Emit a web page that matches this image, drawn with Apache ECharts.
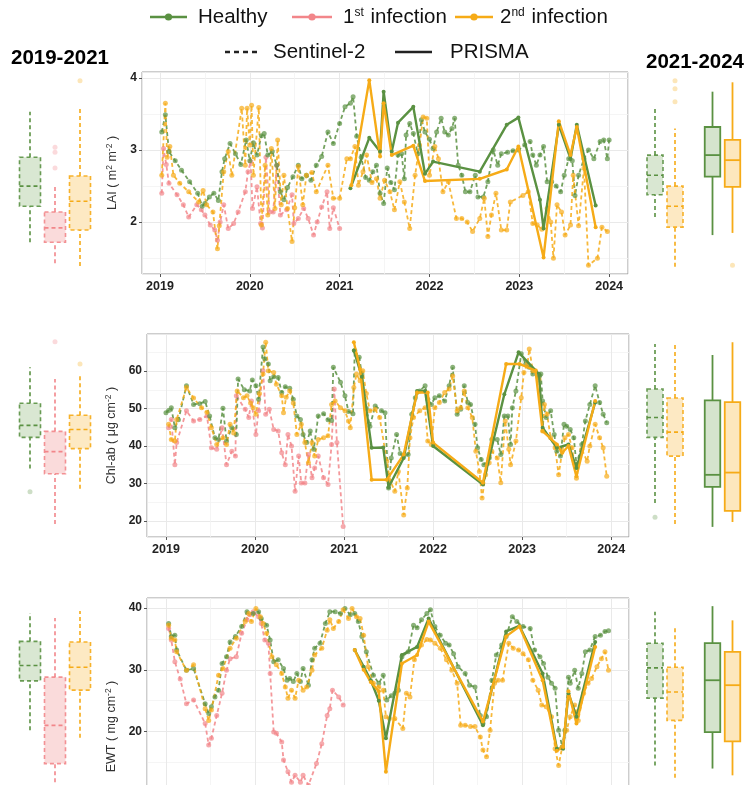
<!DOCTYPE html>
<html>
<head>
<meta charset="utf-8">
<script src="https://cdn.jsdelivr.net/npm/echarts@6/dist/echarts.min.js"></script>
<style>
  html, body { margin: 0; padding: 0; background: #fff; overflow: hidden; }
  #chart { width: 747px; height: 785px; }
</style>
</head>
<body>
<div id="chart"></div>
<script>
// ---------- time series: [decimal year, value] ----------
// LAI (m2 m-2)
const laiHealthyS2 = [[2019.02,3.25],[2019.06,3.49],[2019.10,2.98],[2019.17,2.85],[2019.24,2.72],[2019.33,2.56],[2019.42,2.40],[2019.47,2.22],[2019.50,2.26],[2019.55,2.35],[2019.60,2.40],[2019.65,2.30],[2019.69,2.70],[2019.72,2.88],[2019.78,3.09],[2019.84,2.95],[2019.90,2.80],[2019.96,3.14],[2020.00,2.85],[2020.04,3.10],[2020.08,2.93],[2020.13,3.20],[2020.16,3.23],[2020.20,2.93],[2020.25,2.98],[2020.30,2.79],[2020.34,2.42],[2020.38,2.31],[2020.42,2.48],[2020.48,2.63],[2020.54,2.79],[2020.58,2.60],[2020.63,2.65],[2020.68,2.58],[2020.74,2.79],[2020.80,2.91],[2020.87,3.25],[2020.93,3.09],[2021.00,3.37],[2021.06,3.60],[2021.12,3.65],[2021.15,3.74],[2021.19,3.19],[2021.24,2.90],[2021.29,2.62],[2021.33,2.58],[2021.37,2.70],[2021.41,2.79],[2021.45,2.40],[2021.49,2.26],[2021.53,2.75],[2021.57,2.55],[2021.61,2.45],[2021.65,2.93],[2021.69,2.95],[2021.72,2.60],[2021.74,3.21],[2021.78,3.37],[2021.82,3.23],[2021.87,2.95],[2021.91,3.42],[2021.95,3.25],[2022.00,3.15],[2022.04,3.02],[2022.08,3.25],[2022.13,3.44],[2022.17,3.25],[2022.21,3.21],[2022.25,3.30],[2022.28,3.44],[2022.32,2.79],[2022.36,2.65],[2022.40,2.42],[2022.45,2.42],[2022.51,2.65],[2022.54,2.35],[2022.60,2.35],[2022.65,2.56],[2022.71,3.00],[2022.76,2.79],[2022.80,2.95],[2022.87,2.97],[2022.93,2.99],[2022.99,3.00],[2023.06,3.07],[2023.12,3.12],[2023.15,2.93],[2023.19,2.79],[2023.23,2.93],[2023.27,3.05],[2023.31,2.56],[2023.36,2.56],[2023.41,2.50],[2023.46,2.42],[2023.50,2.65],[2023.55,2.88],[2023.59,2.85],[2023.62,2.37],[2023.66,2.65],[2023.72,2.88],[2023.77,3.00],[2023.83,2.88],[2023.90,3.12],[2023.94,3.14],[2023.98,2.88],[2024.00,3.14]];
const laiInf1S2 = [[2019.02,2.40],[2019.04,3.02],[2019.07,2.80],[2019.10,2.54],[2019.19,2.38],[2019.26,2.24],[2019.32,2.07],[2019.41,2.24],[2019.46,2.17],[2019.50,2.10],[2019.56,1.96],[2019.61,1.89],[2019.64,1.75],[2019.67,2.00],[2019.71,2.24],[2019.76,1.91],[2019.82,1.98],[2019.87,2.14],[2019.95,2.42],[2019.98,2.70],[2020.01,2.84],[2020.03,2.19],[2020.08,2.49],[2020.12,1.98],[2020.14,1.92],[2020.18,2.90],[2020.22,2.14],[2020.26,2.14],[2020.30,2.79],[2020.34,2.10],[2020.41,2.17],[2020.47,2.38],[2020.49,1.98],[2020.54,2.05],[2020.60,2.19],[2020.65,2.05],[2020.71,1.82],[2020.75,2.00],[2020.80,2.21],[2020.86,2.42],[2020.89,1.91],[2020.93,2.20],[2021.00,1.91]];
const laiInf2S2 = [[2019.02,2.65],[2019.06,3.65],[2019.08,2.90],[2019.11,3.05],[2019.15,2.65],[2019.22,2.54],[2019.32,2.42],[2019.43,2.28],[2019.48,2.44],[2019.52,2.24],[2019.59,2.14],[2019.64,1.63],[2019.66,1.95],[2019.71,2.70],[2019.76,2.98],[2019.80,2.65],[2019.91,3.58],[2019.95,2.79],[2019.97,3.58],[2020.00,3.07],[2020.02,3.62],[2020.04,2.65],[2020.10,3.59],[2020.13,1.96],[2020.17,2.79],[2020.20,2.10],[2020.24,3.02],[2020.28,2.19],[2020.31,3.14],[2020.35,2.24],[2020.38,2.65],[2020.42,2.19],[2020.47,1.73],[2020.50,2.20],[2020.54,2.77],[2020.59,2.24],[2020.63,2.65],[2020.69,2.69],[2020.74,2.42],[2020.87,2.79],[2020.93,2.33],[2021.00,2.33],[2021.08,2.88],[2021.12,2.88],[2021.17,3.05],[2021.21,2.51],[2021.26,2.70],[2021.30,2.93],[2021.36,2.55],[2021.41,2.60],[2021.45,2.33],[2021.50,2.58],[2021.56,2.42],[2021.61,2.17],[2021.67,2.56],[2021.72,2.28],[2021.78,1.91],[2021.84,2.65],[2021.89,3.07],[2021.93,3.46],[2021.97,3.44],[2022.00,2.65],[2022.06,3.05],[2022.10,2.88],[2022.15,2.42],[2022.21,2.56],[2022.30,2.05],[2022.36,2.05],[2022.42,2.00],[2022.48,1.87],[2022.56,2.05],[2022.61,2.33],[2022.65,1.80],[2022.69,2.10],[2022.74,2.40],[2022.80,1.89],[2022.86,1.89],[2022.90,2.28],[2023.04,2.37],[2023.10,2.42],[2023.15,1.98],[2023.20,1.96],[2023.25,1.90],[2023.31,2.19],[2023.35,2.00],[2023.38,1.50],[2023.42,2.24],[2023.47,2.14],[2023.51,1.82],[2023.57,1.96],[2023.60,2.65],[2023.66,1.95],[2023.72,2.75],[2023.77,1.40],[2023.87,1.50],[2023.92,1.93],[2023.98,1.87]];
const laiHealthyPR = [[2021.12,2.47],[2021.33,3.17],[2021.45,2.98],[2021.49,3.81],[2021.58,2.98],[2021.65,3.38],[2021.82,3.60],[2021.95,2.67],[2022.04,2.84],[2022.56,2.70],[2022.86,3.35],[2022.99,3.45],[2023.23,2.31],[2023.27,1.91],[2023.44,3.35],[2023.57,2.88],[2023.64,3.35],[2023.85,2.23]];
const laiInf2PR = [[2021.13,2.51],[2021.33,3.97],[2021.45,2.91],[2021.49,3.65],[2021.58,2.93],[2021.82,3.06],[2021.95,2.57],[2022.56,2.60],[2022.86,2.73],[2022.99,3.05],[2023.27,1.51],[2023.44,3.40],[2023.57,2.93],[2023.64,3.32],[2023.85,1.93]];

// Chl-ab (ug cm-2)
const chlHealthyS2 = [[2019.00,48.9],[2019.03,49.5],[2019.06,50.2],[2019.10,44.9],[2019.14,47.0],[2019.23,56.1],[2019.31,51.1],[2019.38,51.3],[2019.44,51.9],[2019.49,48.0],[2019.55,42.2],[2019.59,41.7],[2019.64,50.1],[2019.68,41.3],[2019.74,44.9],[2019.79,43.1],[2019.81,57.9],[2019.88,55.0],[2019.94,54.7],[2019.97,57.6],[2020.01,56.1],[2020.04,52.5],[2020.09,66.4],[2020.11,63.2],[2020.15,61.9],[2020.17,57.4],[2020.21,58.5],[2020.26,58.3],[2020.30,54.3],[2020.34,55.8],[2020.39,55.4],[2020.43,52.5],[2020.47,48.0],[2020.51,47.1],[2020.54,43.1],[2020.58,40.9],[2020.62,44.0],[2020.66,39.1],[2020.71,48.0],[2020.77,48.6],[2020.82,47.0],[2020.86,46.8],[2020.88,61.0],[2020.96,57.0],[2021.01,53.4],[2021.05,49.2],[2021.10,48.6],[2021.12,65.5],[2021.17,63.7],[2021.20,59.2],[2021.25,50.0],[2021.29,45.3],[2021.35,50.7],[2021.42,49.4],[2021.46,48.9],[2021.50,28.8],[2021.53,36.8],[2021.59,43.1],[2021.63,38.0],[2021.67,37.3],[2021.72,37.7],[2021.76,48.5],[2021.80,52.9],[2021.85,54.7],[2021.91,56.1],[2021.94,52.5],[2021.98,51.1],[2022.02,52.9],[2022.07,53.4],[2022.13,52.0],[2022.18,56.1],[2022.22,61.0],[2022.27,48.5],[2022.31,49.8],[2022.35,56.1],[2022.39,51.6],[2022.42,51.1],[2022.47,45.8],[2022.50,39.5],[2022.54,36.4],[2022.57,35.0],[2022.63,36.8],[2022.66,41.7],[2022.72,41.7],[2022.76,37.7],[2022.80,48.0],[2022.84,48.0],[2022.87,40.4],[2022.89,50.2],[2022.93,54.7],[2022.99,64.6],[2023.04,61.9],[2023.08,61.0],[2023.12,59.2],[2023.18,58.3],[2023.21,59.2],[2023.23,52.0],[2023.27,47.6],[2023.32,49.4],[2023.36,43.1],[2023.39,38.6],[2023.43,37.3],[2023.47,45.8],[2023.50,45.3],[2023.54,44.4],[2023.58,42.2],[2023.61,35.0],[2023.67,40.4],[2023.71,46.7],[2023.76,51.1],[2023.82,56.1],[2023.87,51.6],[2023.91,48.5],[2023.95,46.2]];
const chlInf1S2 = [[2019.03,44.9],[2019.06,47.1],[2019.10,35.0],[2019.12,40.9],[2019.23,49.4],[2019.31,46.7],[2019.38,47.1],[2019.46,48.0],[2019.51,39.5],[2019.57,39.1],[2019.63,44.9],[2019.68,35.0],[2019.74,38.6],[2019.78,37.3],[2019.79,53.4],[2019.89,49.8],[2019.93,47.6],[2019.96,52.0],[2020.01,43.1],[2020.04,49.4],[2020.09,60.1],[2020.12,48.5],[2020.16,49.8],[2020.21,44.4],[2020.26,44.0],[2020.30,38.2],[2020.34,35.0],[2020.37,43.1],[2020.41,40.0],[2020.45,27.9],[2020.49,37.3],[2020.52,30.1],[2020.56,30.1],[2020.60,37.7],[2020.64,31.5],[2020.67,34.1],[2020.71,37.3],[2020.77,31.5],[2020.82,29.7],[2020.86,40.4],[2020.89,55.2],[2020.92,40.9],[2020.99,18.5]];
const chlInf2S2 = [[2019.03,45.8],[2019.06,41.7],[2019.10,41.3],[2019.12,47.1],[2019.23,55.6],[2019.31,52.8],[2019.40,50.2],[2019.46,49.0],[2019.51,44.9],[2019.57,40.4],[2019.64,42.2],[2019.68,40.4],[2019.72,45.8],[2019.76,43.5],[2019.80,54.7],[2019.87,52.9],[2019.91,53.4],[2019.95,51.5],[2019.98,50.2],[2020.01,48.5],[2020.05,54.0],[2020.09,59.2],[2020.12,67.7],[2020.15,60.1],[2020.21,59.6],[2020.24,56.5],[2020.30,53.4],[2020.32,48.9],[2020.35,53.0],[2020.39,54.7],[2020.43,51.5],[2020.47,43.1],[2020.52,45.8],[2020.56,40.9],[2020.60,35.5],[2020.64,40.9],[2020.67,37.3],[2020.71,41.7],[2020.77,42.2],[2020.82,42.7],[2020.86,51.1],[2020.90,52.0],[2020.96,50.2],[2021.01,49.4],[2021.05,46.7],[2021.07,44.9],[2021.11,55.6],[2021.14,59.2],[2021.18,57.4],[2021.21,60.1],[2021.25,54.0],[2021.29,49.4],[2021.35,49.8],[2021.40,47.6],[2021.48,35.9],[2021.52,30.6],[2021.57,27.9],[2021.61,33.2],[2021.67,21.6],[2021.71,28.8],[2021.74,42.2],[2021.78,47.6],[2021.85,49.4],[2021.91,50.2],[2021.94,41.3],[2021.98,40.4],[2022.02,50.2],[2022.07,51.6],[2022.13,54.3],[2022.18,55.2],[2022.22,58.7],[2022.27,49.4],[2022.31,50.2],[2022.35,54.7],[2022.39,50.2],[2022.44,47.6],[2022.48,38.6],[2022.52,33.2],[2022.55,26.1],[2022.59,32.3],[2022.63,35.5],[2022.66,38.6],[2022.72,36.8],[2022.76,30.2],[2022.81,46.7],[2022.85,39.1],[2022.87,35.0],[2022.93,41.3],[2022.99,52.9],[2023.02,59.6],[2023.06,61.9],[2023.08,65.9],[2023.12,60.1],[2023.15,60.1],[2023.19,57.8],[2023.23,44.0],[2023.25,51.1],[2023.28,48.5],[2023.32,42.2],[2023.37,39.5],[2023.41,32.3],[2023.45,38.6],[2023.48,42.2],[2023.52,43.1],[2023.56,39.5],[2023.61,31.4],[2023.67,39.1],[2023.73,35.9],[2023.76,40.0],[2023.82,45.8],[2023.87,42.2],[2023.91,39.5],[2023.95,31.9]];
const chlHealthyPR = [[2021.11,65.5],[2021.20,58.5],[2021.31,39.5],[2021.44,39.6],[2021.50,29.0],[2021.67,36.8],[2021.82,54.7],[2021.91,54.7],[2022.00,40.0],[2022.56,29.7],[2022.80,53.8],[2022.96,65.0],[2023.19,59.2],[2023.23,44.9],[2023.39,39.5],[2023.52,40.4],[2023.61,34.1],[2023.82,51.6]];
const chlInf2PR = [[2021.11,67.7],[2021.18,60.5],[2021.31,31.0],[2021.48,31.0],[2021.67,37.7],[2021.82,54.3],[2021.94,54.3],[2022.00,40.9],[2022.56,30.2],[2022.82,61.9],[2022.97,61.9],[2023.15,60.1],[2023.23,44.0],[2023.39,40.4],[2023.45,38.2],[2023.52,40.0],[2023.61,31.9],[2023.82,52.0]];

// EWT (mg cm-2)
const ewtHealthyS2 = [[2019.03,37.5],[2019.06,35.4],[2019.10,35.6],[2019.12,33.2],[2019.23,29.9],[2019.31,30.2],[2019.44,24.5],[2019.48,22.9],[2019.51,24.0],[2019.55,25.6],[2019.59,26.7],[2019.63,31.0],[2019.68,32.1],[2019.72,34.5],[2019.78,35.4],[2019.85,37.0],[2019.91,39.4],[2019.98,39.1],[2020.04,39.4],[2020.07,38.3],[2020.13,37.2],[2020.17,34.8],[2020.21,31.3],[2020.26,31.6],[2020.32,30.2],[2020.36,28.3],[2020.39,28.6],[2020.43,28.1],[2020.47,29.4],[2020.51,28.1],[2020.54,30.2],[2020.60,27.5],[2020.64,31.6],[2020.67,33.5],[2020.73,34.3],[2020.79,37.5],[2020.84,39.4],[2020.90,39.4],[2020.96,39.1],[2021.01,39.9],[2021.07,38.9],[2021.12,39.1],[2021.16,37.8],[2021.20,35.4],[2021.25,32.9],[2021.33,29.1],[2021.39,27.8],[2021.44,29.1],[2021.48,25.1],[2021.53,25.8],[2021.57,26.2],[2021.61,26.7],[2021.65,32.1],[2021.72,32.9],[2021.78,37.2],[2021.82,36.8],[2021.87,38.1],[2021.93,39.1],[2021.97,39.7],[2022.02,37.0],[2022.08,35.6],[2022.14,34.3],[2022.18,34.0],[2022.23,32.6],[2022.28,30.5],[2022.36,29.4],[2022.41,27.5],[2022.47,27.2],[2022.53,22.6],[2022.56,21.3],[2022.60,22.4],[2022.66,28.3],[2022.71,32.4],[2022.77,34.0],[2022.82,35.4],[2022.89,38.6],[2022.94,37.8],[2023.01,37.0],[2023.09,36.7],[2023.14,33.2],[2023.20,32.1],[2023.24,31.0],[2023.29,28.8],[2023.33,27.8],[2023.37,27.0],[2023.41,20.2],[2023.45,17.5],[2023.48,20.2],[2023.52,28.8],[2023.54,27.8],[2023.59,29.9],[2023.63,27.0],[2023.67,29.4],[2023.71,32.9],[2023.76,33.2],[2023.82,35.4],[2023.88,35.6],[2023.93,36.2],[2023.97,36.3]];
const ewtInf1S2 = [[2019.03,36.7],[2019.06,34.8],[2019.10,31.3],[2019.16,28.5],[2019.23,24.5],[2019.31,25.1],[2019.44,21.3],[2019.48,17.8],[2019.51,18.9],[2019.57,22.6],[2019.63,26.2],[2019.68,29.9],[2019.72,31.8],[2019.79,32.1],[2019.85,35.9],[2019.91,38.1],[2019.94,38.9],[2019.98,39.4],[2020.04,38.6],[2020.07,37.5],[2020.11,34.8],[2020.15,34.3],[2020.17,29.4],[2020.21,19.9],[2020.24,19.7],[2020.30,18.3],[2020.32,15.4],[2020.37,13.5],[2020.41,11.8],[2020.45,12.9],[2020.51,11.8],[2020.54,12.9],[2020.60,11.3],[2020.69,14.8],[2020.75,18.0],[2020.81,22.6],[2020.84,23.7],[2020.87,26.7],[2020.94,25.6],[2020.99,24.3]];
const ewtInf2S2 = [[2019.03,37.2],[2019.06,35.1],[2019.10,34.8],[2019.12,32.9],[2019.23,29.9],[2019.31,30.8],[2019.44,23.7],[2019.48,21.8],[2019.51,23.5],[2019.59,29.1],[2019.64,30.2],[2019.72,33.5],[2019.79,35.1],[2019.89,37.8],[2019.93,39.1],[2019.96,37.8],[2020.01,39.9],[2020.06,38.6],[2020.09,37.5],[2020.13,35.9],[2020.19,32.1],[2020.24,30.8],[2020.30,29.4],[2020.34,27.2],[2020.37,25.4],[2020.41,26.7],[2020.45,25.4],[2020.49,28.3],[2020.54,26.7],[2020.58,27.2],[2020.64,29.9],[2020.67,32.4],[2020.75,33.5],[2020.81,36.4],[2020.84,38.1],[2020.88,36.7],[2020.94,37.8],[2020.99,39.7],[2021.05,38.3],[2021.09,39.9],[2021.14,38.6],[2021.18,38.3],[2021.22,35.6],[2021.27,30.5],[2021.33,27.8],[2021.39,27.2],[2021.44,26.7],[2021.47,22.4],[2021.51,22.1],[2021.57,22.1],[2021.66,20.5],[2021.70,26.2],[2021.74,25.6],[2021.79,31.6],[2021.87,34.0],[2021.93,34.9],[2021.97,34.8],[2022.02,34.3],[2022.08,33.5],[2022.15,31.6],[2022.21,29.9],[2022.27,27.8],[2022.31,21.0],[2022.36,21.0],[2022.42,20.8],[2022.47,20.8],[2022.53,19.1],[2022.56,17.0],[2022.60,15.9],[2022.64,20.2],[2022.69,27.8],[2022.73,28.3],[2022.78,28.3],[2022.85,34.3],[2022.90,33.5],[2022.96,33.2],[2023.01,32.6],[2023.07,31.6],[2023.12,28.3],[2023.18,26.7],[2023.22,24.3],[2023.27,24.0],[2023.33,22.4],[2023.37,17.2],[2023.41,14.5],[2023.45,17.5],[2023.50,20.2],[2023.54,22.4],[2023.59,24.3],[2023.63,21.8],[2023.69,26.2],[2023.74,27.8],[2023.78,28.6],[2023.84,30.5],[2023.89,31.8],[2023.93,32.9],[2023.97,29.9]];
const ewtHealthyPR = [[2021.12,33.2],[2021.22,30.5],[2021.30,28.3],[2021.39,25.0],[2021.47,18.9],[2021.65,32.4],[2021.82,33.7],[2021.95,38.3],[2022.56,21.0],[2022.82,36.2],[2022.97,37.1],[2023.23,29.4],[2023.39,17.2],[2023.46,17.2],[2023.52,26.2],[2023.61,22.4],[2023.82,34.5]];
const ewtInf2PR = [[2021.12,33.2],[2021.22,30.0],[2021.30,28.0],[2021.39,26.5],[2021.47,13.5],[2021.65,31.0],[2021.82,32.4],[2021.95,37.8],[2022.56,21.6],[2022.82,35.4],[2022.97,37.0],[2023.23,28.3],[2023.39,16.9],[2023.46,17.5],[2023.52,26.5],[2023.61,21.3],[2023.82,33.7]];

// ---------- box summaries: [lower whisker, Q1, median, Q3, upper whisker] ----------
const laiBoxEarly = [[1.72,2.22,2.50,2.90,3.53],[1.43,1.72,1.92,2.14,2.53],[1.39,1.89,2.29,2.64,3.58]];
const laiOutEarly = [[1,2.75],[1,2.97],[1,3.04],[2,3.96]];
const laiBoxLateS2 = [[2.07,2.38,2.65,2.93,3.58],[1.38,1.93,2.22,2.50,3.30]];
const laiOutLateS2 = [[1,3.67],[1,3.85],[1,3.96]];
const laiBoxLatePR = [[1.82,2.63,2.93,3.32,3.81],[1.85,2.49,2.86,3.14,3.94]];
const laiOutLatePR = [[1,1.40]];

const chlBoxEarly = [[34.0,42.3,45.5,51.4,61.0],[19.2,32.6,38.5,43.9,57.9],[28.6,39.3,44.4,48.2,58.9]];
const chlOutEarly = [[0,27.8],[1,67.8],[2,61.9]];
const chlBoxLateS2 = [[24.8,42.3,47.6,55.2,67.2],[19.2,37.3,43.7,52.8,67.7]];
const chlOutLateS2 = [[0,21.0]];
const chlBoxLatePR = [[18.4,29.1,32.3,52.2,64.3],[19.7,22.7,32.9,51.7,67.7]];
const chlOutLatePR = [];

const ewtBoxEarly = [[20.2,28.2,30.7,34.6,39.2],[5.0,14.8,21.0,28.8,38.4],[19.0,26.7,30.4,34.5,39.5]];
const ewtOutEarly = [];
const ewtBoxLateS2 = [[14.5,25.4,30.3,34.3,39.4],[12.5,21.8,26.4,30.4,36.8]];
const ewtOutLateS2 = [];
const ewtBoxLatePR = [[14.0,19.9,28.3,34.3,40.3],[12.9,18.4,27.5,32.9,38.0]];
const ewtOutLatePR = [];

const groupsEarly = ['Healthy', '1st infection', '2nd infection'];
const groupsLate = ['Healthy', '2nd infection'];
const keysEarly = ['healthy', 'inf1', 'inf2'];
const keysLate = ['healthy', 'inf2'];

// ---------- styling ----------
const FONT = 'Liberation Sans, Arial, Helvetica, sans-serif';
const COLORS = { healthy: '#5a9142', inf1: '#f2868a', inf2: '#f6ab17' };
const FILLS = { healthy: '#d5e4cd', inf1: '#fad7d7', inf2: '#fde7bd' };

const panels = [
  { top: 72, left: 142, width: 486, height: 202, xMin: 2018.8, xMax: 2024.21,
    yMin: 1.28, yMax: 4.083, split: 3, nameGap: 19,
    name: 'LAI ( m{s|2} m{s|-2} )',
    s2: [laiInf1S2, laiHealthyS2, laiInf2S2], pr: [laiHealthyPR, laiInf2PR],
    boxEarly: laiBoxEarly, outEarly: laiOutEarly, boxS2: laiBoxLateS2, outS2: laiOutLateS2,
    boxPR: laiBoxLatePR, outPR: laiOutLatePR },
  { top: 334, left: 147, width: 482, height: 203, xMin: 2018.787, xMax: 2024.2,
    yMin: 15.7, yMax: 69.9, split: 5, nameGap: 24,
    name: 'Chl-ab ( μg cm{s|-2} )',
    s2: [chlInf1S2, chlHealthyS2, chlInf2S2], pr: [chlHealthyPR, chlInf2PR],
    boxEarly: chlBoxEarly, outEarly: chlOutEarly, boxS2: chlBoxLateS2, outS2: chlOutLateS2,
    boxPR: chlBoxLatePR, outPR: chlOutLatePR },
  { top: 598, left: 147, width: 482, height: 257, xMin: 2018.787, xMax: 2024.2,
    yMin: 0, yMax: 41.62, split: 4, nameGap: 24,
    name: 'EWT ( mg cm{s|-2} )',
    s2: [ewtInf1S2, ewtHealthyS2, ewtInf2S2], pr: [ewtHealthyPR, ewtInf2PR],
    boxEarly: ewtBoxEarly, outEarly: ewtOutEarly, boxS2: ewtBoxLateS2, outS2: ewtOutLateS2,
    boxPR: ewtBoxLatePR, outPR: ewtOutLatePR }
];

const grids = [], xAxes = [], yAxes = [], series = [];

// whiskers without caps, box and median line, all placed through the grid's own scales
function boxRenderer(keys, dashed, boxW) {
  return function (params, api) {
    const i = api.value(0);
    const p = [1, 2, 3, 4, 5].map(d => api.coord([i, api.value(d)]));
    const cx = p[0][0];
    const key = keys[i];
    const st = { stroke: COLORS[key], lineWidth: dashed ? 1.6 : 1.8, lineDash: dashed ? [4, 3] : null, fill: null };
    const h = boxW / 2;
    return {
      type: 'group',
      children: [
        { type: 'line', shape: { x1: cx, y1: p[0][1], x2: cx, y2: p[1][1] }, style: st },
        { type: 'line', shape: { x1: cx, y1: p[3][1], x2: cx, y2: p[4][1] }, style: st },
        { type: 'rect', shape: { x: cx - h, y: p[3][1], width: boxW, height: p[1][1] - p[3][1] },
          style: Object.assign({}, st, { fill: FILLS[key], opacity: dashed ? 0.9 : 1 }) },
        { type: 'line', shape: { x1: cx - h, y1: p[2][1], x2: cx + h, y2: p[2][1] }, style: st }
      ]
    };
  };
}

function addBoxGrid(panel, left, width, cats, keys, boxes, outliers, dashed, boxW) {
  const gi = grids.length;
  grids.push({ left: left, top: panel.top, width: width, height: panel.height, show: false, outerBoundsMode: 'none' });
  xAxes.push({ gridIndex: gi, type: 'category', data: cats, show: false, boundaryGap: true });
  yAxes.push({ gridIndex: gi, type: 'value', min: panel.yMin, max: panel.yMax, show: false });
  series.push({
    type: 'custom', xAxisIndex: gi, yAxisIndex: gi, silent: true, animation: false,
    renderItem: boxRenderer(keys, dashed, boxW),
    encode: { x: 0, y: [1, 2, 3, 4, 5] },
    data: boxes.map((b, i) => [i].concat(b))
  });
  if (outliers.length) {
    series.push({
      type: 'scatter', xAxisIndex: gi, yAxisIndex: gi, silent: true, animation: false,
      symbolSize: 5,
      data: outliers.map(o => ({ value: o, itemStyle: { color: COLORS[keys[o[0]]], opacity: 0.3 } }))
    });
  }
}

function lineSeries(gi, data, key, dashed) {
  return {
    type: 'line', xAxisIndex: gi, yAxisIndex: gi, data: data, silent: true, animation: false,
    symbol: 'circle', symbolSize: dashed ? 5 : 4, showSymbol: true, showAllSymbol: true,
    lineStyle: { color: COLORS[key], width: dashed ? 1.8 : 2.4, type: dashed ? [4, 3] : 'solid', opacity: dashed ? 0.85 : 1 },
    itemStyle: { color: COLORS[key], opacity: dashed ? 0.7 : 1 },
    z: dashed ? 2 : 3
  };
}

panels.forEach(panel => {
  const gi = grids.length;
  grids.push({
    left: panel.left, top: panel.top, width: panel.width, height: panel.height,
    show: true, borderColor: '#9a9a9a', borderWidth: 1, backgroundColor: '#fff', outerBoundsMode: 'none'
  });
  xAxes.push({
    gridIndex: gi, type: 'value', min: panel.xMin, max: panel.xMax, splitNumber: 5,
    axisLine: { show: false },
    axisTick: { show: true, length: 3, lineStyle: { color: '#555' } },
    axisLabel: { show: true, showMinLabel: false, showMaxLabel: false, margin: 6,
      formatter: v => String(Math.round(v)), color: '#222', fontWeight: 'bold', fontSize: 12.5, fontFamily: FONT },
    splitLine: { show: true, lineStyle: { color: '#e9e9e9', width: 1 } },
    minorTick: { show: false, splitNumber: 2 },
    minorSplitLine: { show: true, lineStyle: { color: '#f3f3f3', width: 0.8 } }
  });
  yAxes.push({
    gridIndex: gi, type: 'value', min: panel.yMin, max: panel.yMax, splitNumber: panel.split,
    name: panel.name, nameLocation: 'middle', nameGap: panel.nameGap, nameRotate: 90,
    nameTextStyle: { color: '#333', fontSize: 12.5, fontFamily: FONT,
      rich: { s: { fontSize: 8.5, fontFamily: FONT, color: '#333', verticalAlign: 'top', padding: [0, 0, 6, 0] } } },
    axisLine: { show: false },
    axisTick: { show: true, length: 3, lineStyle: { color: '#555' } },
    axisLabel: { show: true, showMinLabel: false, showMaxLabel: false, margin: 5,
      color: '#222', fontWeight: 'bold', fontSize: 12, fontFamily: FONT },
    splitLine: { show: true, lineStyle: { color: '#e9e9e9', width: 1 } },
    minorTick: { show: false, splitNumber: 2 },
    minorSplitLine: { show: true, lineStyle: { color: '#f3f3f3', width: 0.8 } }
  });
  series.push(lineSeries(gi, panel.s2[0], 'inf1', true));
  series.push(lineSeries(gi, panel.s2[1], 'healthy', true));
  series.push(lineSeries(gi, panel.s2[2], 'inf2', true));
  series.push(lineSeries(gi, panel.pr[0], 'healthy', false));
  series.push(lineSeries(gi, panel.pr[1], 'inf2', false));

  addBoxGrid(panel, 17.5, 75, groupsEarly, keysEarly, panel.boxEarly, panel.outEarly, true, 21);
  addBoxGrid(panel, 645, 40, groupsLate, keysLate, panel.boxS2, panel.outS2, true, 16);
  addBoxGrid(panel, 702.5, 40, groupsLate, keysLate, panel.boxPR, panel.outPR, false, 15.5);
});

// ---------- legend and period titles ----------
const LEG = { fontSize: 20.5, fontFamily: FONT, fill: '#111', verticalAlign: 'middle' };
const SUP = { fontSize: 12, fontFamily: FONT, fill: '#111', verticalAlign: 'top', padding: [0, 1, 7, 0] };
function legendLine(x1, x2, y, color, dash, dot) {
  const items = [{ type: 'line', shape: { x1: x1, y1: y, x2: x2, y2: y },
    style: { stroke: color, lineWidth: 2.6, lineDash: dash } }];
  if (dot) items.push({ type: 'circle', shape: { cx: (x1 + x2) / 2, cy: y, r: 3.6 }, style: { fill: color } });
  return items;
}
const graphics = [].concat(
  legendLine(150, 187, 17, COLORS.healthy, null, true),
  [{ type: 'text', x: 198, y: 17, style: Object.assign({ text: 'Healthy' }, LEG) }],
  legendLine(292, 332, 17, COLORS.inf1, null, true),
  [{ type: 'text', x: 343, y: 17, style: Object.assign({ text: '1{s|st} infection', rich: { s: SUP } }, LEG) }],
  legendLine(455, 493, 17, COLORS.inf2, null, true),
  [{ type: 'text', x: 500, y: 17, style: Object.assign({ text: '2{s|nd} infection', rich: { s: SUP } }, LEG) }],
  legendLine(225, 261, 52, '#222', [5, 4], false),
  [{ type: 'text', x: 273, y: 52, style: Object.assign({ text: 'Sentinel-2' }, LEG) }],
  legendLine(395, 432, 52, '#222', null, false),
  [{ type: 'text', x: 450, y: 52, style: Object.assign({ text: 'PRISMA' }, LEG) }],
  [{ type: 'text', x: 60, y: 58, style: { text: '2019-2021', fontSize: 20.5, fontWeight: 'bold', fontFamily: FONT, fill: '#000', align: 'center', verticalAlign: 'middle' } },
   { type: 'text', x: 695, y: 62, style: { text: '2021-2024', fontSize: 20.5, fontWeight: 'bold', fontFamily: FONT, fill: '#000', align: 'center', verticalAlign: 'middle' } }]
);

const chart = echarts.init(document.getElementById('chart'), null, { renderer: 'canvas' });
chart.setOption({
  backgroundColor: '#ffffff',
  animation: false,
  grid: grids,
  xAxis: xAxes,
  yAxis: yAxes,
  series: series,
  graphic: { elements: graphics }
});
</script>
</body>
</html>
